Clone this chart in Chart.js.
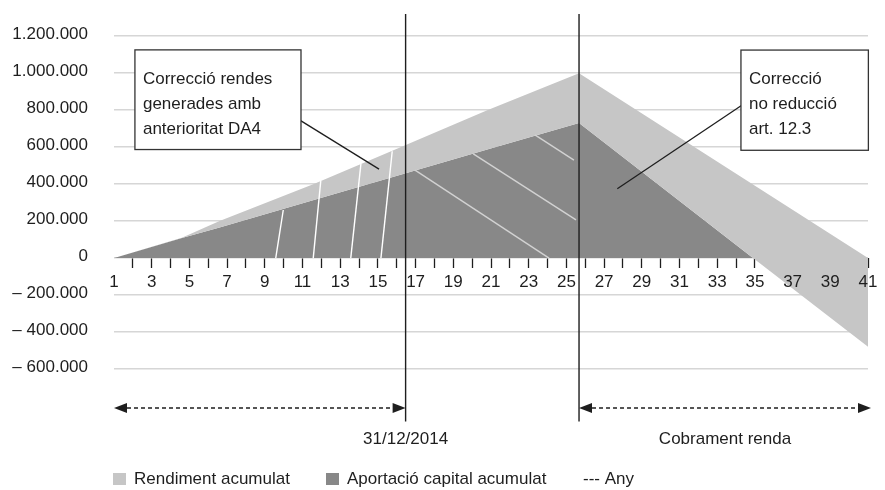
<!DOCTYPE html>
<html lang="ca">
<head>
<meta charset="utf-8">
<script src="https://cdn.jsdelivr.net/npm/chart.js@4/dist/chart.umd.min.js"></script>
<style>
  html, body { margin: 0; padding: 0; background: #fff; }
</style>
</head>
<body>
<canvas id="chart" width="885" height="490"></canvas>
<script>
// ── Dades ─────────────────────────────────────────────────────────
const years      = [1, 4.6, 6.6, 11.6, 16.2, 20.8, 25.67, 34.9, 41];
const rendiment  = [0, 110000, 200000, 400000, 600000, 800000, 1000000, 398000, 0];
const aportacio  = [0, 108000, 166000, 314000, 450000, 587000, 731000, 0, -480000];

const anyYears   = [16.47, 25.67];          // línies verticals "Any"
const anyRange   = [1320000, -884000];      // extrem superior / inferior

// ratllat blanc (x0, y0, x1, y1)
const hatchWhite = [
    [9.58, 0, 9.98, 260000],
    [11.57, 0, 11.97, 419000],
    [13.56, 0, 14.10, 511000],
    [15.16, 0, 15.76, 578000],
];
// ratllat gris clar dins l'àrea fosca
const hatchGrey = [
    [16.97, 476000, 24.08, 0],
    [20.06, 564000, 25.51, 207000],
    [23.33, 666000, 25.40, 530000],
];

const yTicks     = { min: -600000, max: 1200000, step: 200000 };
const xTicks     = { min: 1, max: 41 };

const seriesNames  = ["Rendiment acumulat", "Aportació capital acumulat", "--- Any"];
const periodLabels = ["31/12/2014", "Cobrament renda"];

// ── Estil ─────────────────────────────────────────────────────────
const FONT   = "'Liberation Sans', Arial, sans-serif";
const LIGHT  = "#c6c6c6";
const DARK   = "#888888";
const INK    = "#1e1e1e";

// Anotacions (en unitats de dades)
const notes = [
    { x0: 2.11, x1: 10.92, y0: 1126000, y1: 587000,
      from: [10.0, 800000], to: [15.06, 481000],
      lines: ["Correcció rendes", "generades amb", "anterioritat DA4"] },
    { x0: 34.26, x1: 41.02, y0: 1125000, y1: 583000,
      from: [34.8, 860000], to: [27.70, 375000],
      lines: ["Correcció", "no reducció", "art. 12.3"] },
];

function fmtCat(v) {
    const s = Math.abs(v).toString().replace(/\B(?=(\d{3})+(?!\d))/g, ".");
    return v < 0 ? "\u2013 " + s : s;
}

function toPoints(xs, ys) {
    return xs.map((x, i) => ({ x: x, y: ys[i] }));
}

function segDataset(seg, color) {
    return {
        data: [{ x: seg[0], y: seg[1] }, { x: seg[2], y: seg[3] }],
        borderColor: color,
        borderWidth: 1.4,
        pointRadius: 0,
        fill: false,
        order: 0,
    };
}

// ── Plugin: anotacions, fletxes i llegenda ────────────────────────
const extras = {
    id: "extras",
    afterDraw(chart) {
        const ctx = chart.ctx;
        const xs = chart.scales.x, ys = chart.scales.y;
        const area = chart.chartArea;

        ctx.save();
        ctx.font = "17px " + FONT;
        ctx.textBaseline = "middle";

        // caixes de text
        notes.forEach(n => {
            const l = xs.getPixelForValue(n.x0), r = xs.getPixelForValue(n.x1);
            const t = ys.getPixelForValue(n.y0), b = ys.getPixelForValue(n.y1);
            ctx.strokeStyle = INK;
            ctx.lineWidth = 1.3;
            ctx.beginPath();
            ctx.moveTo(xs.getPixelForValue(n.from[0]), ys.getPixelForValue(n.from[1]));
            ctx.lineTo(xs.getPixelForValue(n.to[0]), ys.getPixelForValue(n.to[1]));
            ctx.stroke();
            ctx.fillStyle = "#fff";
            ctx.fillRect(l, t, r - l, b - t);
            ctx.strokeStyle = "#333";
            ctx.strokeRect(l, t, r - l, b - t);
            ctx.fillStyle = INK;
            ctx.textAlign = "left";
            n.lines.forEach((txt, i) => ctx.fillText(txt, l + 8, t + 29 + i * 25));
        });

        // fletxes de període
        const arrowY = area.bottom + 39;
        const spans = [
            [xs.getPixelForValue(xTicks.min), xs.getPixelForValue(anyYears[0])],
            [xs.getPixelForValue(anyYears[1]), xs.getPixelForValue(xTicks.max) + 3],
        ];
        spans.forEach((s, i) => {
            drawArrow(ctx, s[0], s[1], arrowY);
            ctx.fillStyle = INK;
            ctx.textAlign = "center";
            const cx = i === 0 ? s[1] : (s[0] + s[1]) / 2;
            ctx.fillText(periodLabels[i], cx, area.bottom + 70);
        });

        // llegenda
        const ly = area.bottom + 110;
        ctx.textAlign = "left";
        const lx = [area.left - 1, area.left + 212];
        [LIGHT, DARK].forEach((c, i) => {
            ctx.fillStyle = c;
            ctx.fillRect(lx[i], ly - 6, 13, 12);
            ctx.fillStyle = INK;
            ctx.fillText(seriesNames[i], lx[i] + 21, ly);
        });
        ctx.fillStyle = INK;
        ctx.fillText(seriesNames[2], area.left + 469, ly);

        ctx.restore();
    }
};

function drawArrow(ctx, x0, x1, y) {
    const head = 13, half = 5;
    ctx.strokeStyle = INK;
    ctx.lineWidth = 1.3;
    ctx.setLineDash([4, 3]);
    ctx.beginPath();
    ctx.moveTo(x0 + head, y);
    ctx.lineTo(x1 - head, y);
    ctx.stroke();
    ctx.setLineDash([]);
    ctx.fillStyle = INK;
    ctx.beginPath();
    ctx.moveTo(x0, y); ctx.lineTo(x0 + head, y - half); ctx.lineTo(x0 + head, y + half);
    ctx.closePath(); ctx.fill();
    ctx.beginPath();
    ctx.moveTo(x1, y); ctx.lineTo(x1 - head, y - half); ctx.lineTo(x1 - head, y + half);
    ctx.closePath(); ctx.fill();
}

// ── Gràfic ────────────────────────────────────────────────────────
const datasets = [
    {
        label: seriesNames[0],
        data: toPoints(years, rendiment),
        backgroundColor: LIGHT,
        borderWidth: 0,
        pointRadius: 0,
        fill: "+1",
        order: 1,
    },
    {
        label: seriesNames[1],
        data: toPoints(years, aportacio),
        backgroundColor: DARK,
        borderWidth: 0,
        pointRadius: 0,
        fill: { target: "origin", above: DARK, below: "rgba(0,0,0,0)" },
        order: 1,
    },
];
hatchWhite.forEach(s => datasets.push(segDataset(s, "#ffffff")));
hatchGrey.forEach(s => datasets.push(segDataset(s, "#d2d2d2")));
anyYears.forEach(x => datasets.push({
    data: [{ x: x, y: anyRange[0] }, { x: x, y: anyRange[1] }],
    borderColor: INK,
    borderWidth: 1.4,
    pointRadius: 0,
    fill: false,
    clip: false,
    order: 0,
}));

new Chart(document.getElementById("chart"), {
    type: "line",
    data: { datasets },
    plugins: [extras],
    options: {
        responsive: false,
        animation: false,
        layout: { padding: { top: 29, right: 17, bottom: 121, left: 0 } },
        plugins: {
            legend: { display: false },
            tooltip: { enabled: false },
        },
        scales: {
            x: {
                type: "linear",
                position: { y: 0 },
                min: xTicks.min,
                max: xTicks.max,
                border: { display: false },
                grid: {
                    drawOnChartArea: false,
                    drawTicks: true,
                    tickLength: 10,
                    tickWidth: 1.3,
                    // marques sota les àrees (l'àrea clara les tapa a la dreta)
                    z: -1,
                    tickColor: (c) => (c.tick && c.tick.value === xTicks.min) ? "rgba(0,0,0,0)" : INK,
                },
                ticks: {
                    z: 1,   // etiquetes per sobre de les àrees
                    stepSize: 1,
                    autoSkip: false,
                    maxRotation: 0,
                    padding: 4,
                    color: INK,
                    font: { family: FONT, size: 17 },
                    callback: (v) => (v % 2 === 1 ? String(v) : ""),
                },
            },
            y: {
                min: yTicks.min,
                max: yTicks.max,
                border: { display: false },
                grid: { color: "#d6d6d6", lineWidth: 1.5, drawTicks: false },
                afterFit: (scale) => { scale.width = 114; },
                ticks: {
                    stepSize: yTicks.step,
                    padding: 26,
                    color: INK,
                    labelOffset: -2,
                    font: { family: FONT, size: 17 },
                    callback: (v) => fmtCat(v),
                },
            },
        },
    },
});
</script>
</body>
</html>
